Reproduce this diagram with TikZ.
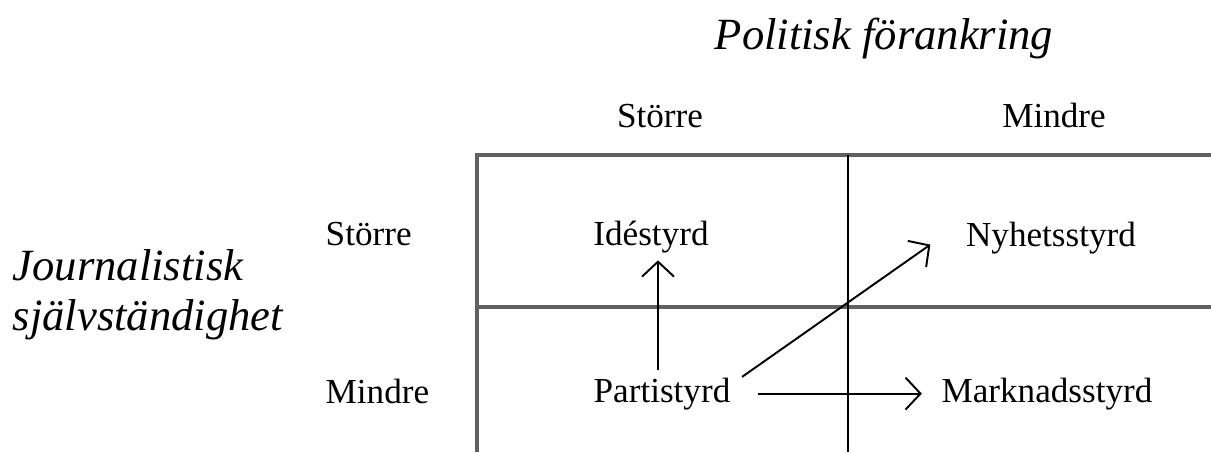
\documentclass[tikz,border=0pt]{standalone}
\usepackage{fontspec}
\setmainfont{Liberation Serif}
\usepackage{tikz}
\usetikzlibrary{arrows.meta}
\tikzstyle{lbl}=[font=\fontsize{10}{12}\selectfont, inner sep=2pt]
\tikzstyle{axis}=[font=\fontsize{12.7}{15}\selectfont\itshape, inner sep=0pt]
\tikzstyle{arr}=[line width=0.55pt, -{Straight Barb[length=1.5mm,width=3.2mm]}]
\tikzstyle{frame}=[line width=0.9pt, black!62]

\begin{document}
\begin{tikzpicture}[y=-1cm]
\useasboundingbox (0,0) rectangle (12.11,4.52);
% frame of the table
\draw[frame] (4.77,4.52) -- (4.77,1.55) -- (12.11,1.55);
\draw[frame] (4.77,3.07) -- (12.11,3.07);
\draw[line width=0.5pt] (8.48,1.55) -- (8.48,4.52);
% axis titles
\node[axis, anchor=base] (pol) at (8.84,0.49) {Politisk förankring};
\node[axis, anchor=base west] (jour) at (0.12,2.80) {Journalistisk};
\node[axis, anchor=base west] (sjalv) at (0.12,3.30) {självständighet};
\node[lbl, anchor=base] (colstor) at (6.60,1.27) {Större};
\node[lbl, anchor=base] (colmin) at (10.54,1.27) {Mindre};
\node[lbl, anchor=base west] (rowstor) at (3.18,2.45) {Större};
\node[lbl, anchor=base west] (rowmin) at (3.18,4.03) {Mindre};
% the four types
\node[lbl, anchor=base] (ide) at (6.51,2.45) {Idéstyrd};
\node[lbl, anchor=base] (nyhet) at (10.51,2.46) {Nyhetsstyrd};
\node[lbl, anchor=base] (parti) at (6.62,4.02) {Partistyrd};
\node[lbl, anchor=base] (mark) at (10.47,4.02) {Marknadsstyrd};
% shifts
\draw[arr] ([xshift=-0.04cm]parti.north) -- ([xshift=0.07cm]ide.south);
\draw[arr] ([xshift=0.04cm,yshift=-0.07cm]parti.north east) -- ([xshift=-0.28cm,yshift=-0.07cm]nyhet.west);
\draw[arr, shorten <=0.2cm, shorten >=0.12cm] (parti.east) -- (mark.west);
\end{tikzpicture}
\end{document}
